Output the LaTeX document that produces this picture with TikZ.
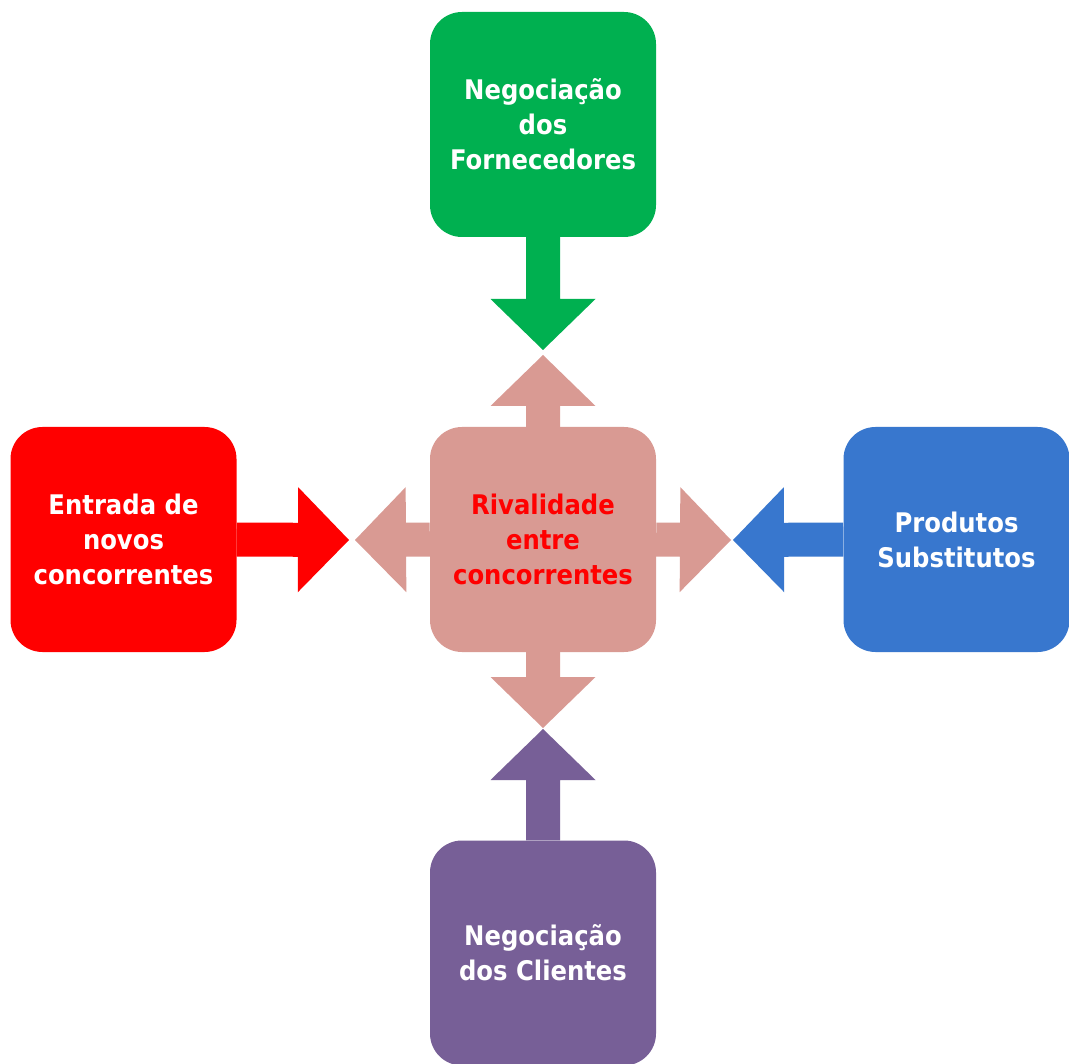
\documentclass[tikz,border=0pt]{standalone}
\usepackage{fontspec}
\setmainfont{DejaVu Sans}[FakeStretch=0.9]
\usetikzlibrary{calc}
\definecolor{cgreen}{HTML}{00B050}
\definecolor{cred}{HTML}{FF0000}
\definecolor{cblue}{HTML}{3877CE}
\definecolor{cpurple}{HTML}{775F97}
\definecolor{cpink}{HTML}{D99A93}
\newcommand\shw{17pt}
\newcommand\hhw{52.5pt}
\newcommand\hln{51pt}
% #1 fill colour, #2 start, #3 tip
\newcommand\blockarrow[3]{%
  \coordinate (ab) at ($(#3)!\hln!(#2)$);
  \fill[#1] ($(#2)!\shw!90:(#3)$) -- ($(ab)!\shw!90:(#3)$) -- ($(ab)!\hhw!90:(#3)$)
    -- (#3) -- ($(ab)!\hhw!-90:(#3)$) -- ($(ab)!\shw!-90:(#3)$) -- ($(#2)!\shw!-90:(#3)$) -- cycle;
}
\begin{document}
\begin{tikzpicture}[x=1pt,y=-1pt,
  box/.style={rounded corners=32pt, minimum width=226pt, minimum height=225pt, inner sep=0pt,
    align=center, text=white, font=\bfseries\fontsize{27}{35}\selectfont}]
\useasboundingbox[fill=white] (0,0) rectangle (1069,1064);
\node[box, fill=cgreen] (top) at (543,124.5) {Negociação\\dos\\Fornecedores};
\node[box, fill=cpink, text=cred] (mid) at (543,539.5) {Rivalidade\\entre\\concorrentes};
\node[box, fill=cred] (left) at (123.5,539.5) {Entrada de\\novos\\concorrentes};
\node[box, fill=cblue] (right) at (956.5,539.5) {Produtos\\Substitutos};
\node[box, fill=cpurple] (bot) at (543,953) {Negociação\\dos Clientes};
\coordinate (tg) at (543,350);
\coordinate (tpu) at (543,355);
\coordinate (tpl) at (355,540);
\coordinate (tr) at (349,540);
\coordinate (tpr) at (731,540);
\coordinate (tb) at (733,540);
\coordinate (tpd) at (543,728);
\coordinate (tpp) at (543,729);
\blockarrow{cgreen}{top.south}{tg}
\blockarrow{cpink}{mid.north}{tpu}
\blockarrow{cpink}{mid.west}{tpl}
\blockarrow{cred}{left.east}{tr}
\blockarrow{cpink}{mid.east}{tpr}
\blockarrow{cblue}{right.west}{tb}
\blockarrow{cpink}{mid.south}{tpd}
\blockarrow{cpurple}{bot.north}{tpp}
\end{tikzpicture}
\end{document}
